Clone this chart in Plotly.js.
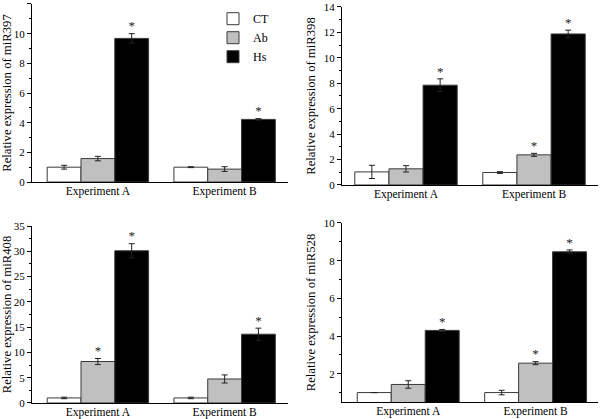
<!DOCTYPE html>
<html>
<head>
<meta charset="utf-8">
<script src="https://cdn.plot.ly/plotly-3.0.1.min.js"></script>
<style>html,body{margin:0;padding:0;background:#fff;}#chart{width:600px;height:419px;}</style>
</head>
<body>
<div id="chart"></div>
<script>
// ---- data ----
var categories = ['Experiment A', 'Experiment B'];
var seriesNames = ['CT', 'Ab', 'Hs'];

// miR397
var mir397_CT = [1.0, 1.0],   mir397_CT_err = [0.13, 0.03];
var mir397_Ab = [1.58, 0.87], mir397_Ab_err = [0.15, 0.16];
var mir397_Hs = [9.68, 4.22], mir397_Hs_err = [0.32, 0.05];
var mir397_CT_star = ['', ''], mir397_Ab_star = ['', ''], mir397_Hs_star = ['*', '*'];

// miR398
var mir398_CT = [1.03, 0.98], mir398_CT_err = [0.52, 0.07];
var mir398_Ab = [1.27, 2.37], mir398_Ab_err = [0.25, 0.12];
var mir398_Hs = [7.85, 11.88], mir398_Hs_err = [0.5, 0.3];
var mir398_CT_star = ['', ''], mir398_Ab_star = ['', '*'], mir398_Hs_star = ['*', '*'];

// miR408
var mir408_CT = [1.0, 1.0],   mir408_CT_err = [0.15, 0.15];
var mir408_Ab = [8.2, 4.75],  mir408_Ab_err = [0.6, 0.8];
var mir408_Hs = [30.1, 13.6], mir408_Hs_err = [1.4, 1.2];
var mir408_CT_star = ['', ''], mir408_Ab_star = ['*', ''], mir408_Hs_star = ['*', '*'];

// miR528
var mir528_CT = [1.0, 1.0],   mir528_CT_err = [0.0, 0.12];
var mir528_Ab = [1.43, 2.56], mir528_Ab_err = [0.2, 0.08];
var mir528_Hs = [4.3, 8.47],  mir528_Hs_err = [0.05, 0.1];
var mir528_CT_star = ['', ''], mir528_Ab_star = ['', '*'], mir528_Hs_star = ['*', '*'];

var yTitles = ['Relative expression of miR397', 'Relative expression of miR398',
               'Relative expression of miR408', 'Relative expression of miR528'];

// ---- styles ----
var FONT = '"Liberation Serif", "Times New Roman", serif';
var fills = ['#ffffff', '#c0c0c0', '#000000'];

var panels = [
  {vals: [mir397_CT, mir397_Ab, mir397_Hs], errs: [mir397_CT_err, mir397_Ab_err, mir397_Hs_err], stars: [mir397_CT_star, mir397_Ab_star, mir397_Hs_star]},
  {vals: [mir398_CT, mir398_Ab, mir398_Hs], errs: [mir398_CT_err, mir398_Ab_err, mir398_Hs_err], stars: [mir398_CT_star, mir398_Ab_star, mir398_Hs_star]},
  {vals: [mir408_CT, mir408_Ab, mir408_Hs], errs: [mir408_CT_err, mir408_Ab_err, mir408_Hs_err], stars: [mir408_CT_star, mir408_Ab_star, mir408_Hs_star]},
  {vals: [mir528_CT, mir528_Ab, mir528_Hs], errs: [mir528_CT_err, mir528_Ab_err, mir528_Hs_err], stars: [mir528_CT_star, mir528_Ab_star, mir528_Hs_star]}
];

var traces = [];
panels.forEach(function (p, pi) {
  var xa = pi === 0 ? 'x' : 'x' + (pi + 1);
  var ya = pi === 0 ? 'y' : 'y' + (pi + 1);
  for (var s = 0; s < 3; s++) {
    traces.push({
      type: 'bar', x: categories, y: p.vals[s], name: seriesNames[s],
      xaxis: xa, yaxis: ya, offsetgroup: 's' + s, legendgroup: seriesNames[s],
      showlegend: pi === 0,
      marker: {color: fills[s], line: {color: '#3a3a3a', width: 1}},
      error_y: {type: 'data', array: p.errs[s], visible: true, color: '#222', thickness: 1, width: 3},
      hoverinfo: 'skip'
    });
  }
  for (var s2 = 0; s2 < 3; s2++) {
    var tops = p.vals[s2].map(function (v, i) { return v + p.errs[s2][i]; });
    traces.push({
      type: 'scatter', mode: 'text', x: categories, y: tops, text: p.stars[s2],
      textposition: 'top center', textfont: {family: FONT, size: 13, color: '#222'},
      marker: {color: '#222'},
      xaxis: xa, yaxis: ya, offsetgroup: 's' + s2, showlegend: false, hoverinfo: 'skip', cliponaxis: false
    });
  }
});

function xAxis(domain, anchor, range) {
  return {domain: domain, anchor: anchor, type: 'category', range: range,
    showline: true, linecolor: '#000', linewidth: 1, ticks: '', showgrid: false, zeroline: false,
    tickfont: {family: FONT, size: 11.5, color: '#000'}, ticklabelstandoff: -2, fixedrange: true};
}
function yAxis(domain, anchor, range, dtick, title, standoff) {
  return {domain: domain, anchor: anchor, range: range, tick0: 0, dtick: dtick,
    showline: true, linecolor: '#000', linewidth: 1, ticks: 'outside', ticklen: 4, tickcolor: '#000',
    minor: {dtick: dtick / 2, ticks: 'outside', ticklen: 2, tickcolor: '#000', showgrid: false},
    showgrid: false, zeroline: false,
    tickfont: {family: FONT, size: 11, color: '#000'},
    title: {text: title, font: {family: FONT, size: 12.7, color: '#000'}, standoff: standoff},
    fixedrange: true};
}

var layout = {
  width: 600, height: 419,
  margin: {l: 0, r: 0, t: 0, b: 0},
  paper_bgcolor: '#fff', plot_bgcolor: '#fff',
  barmode: 'group', bargap: 0.2, bargroupgap: 0,
  scattermode: 'group', scattergap: 0.2,
  showlegend: true,
  legend: {x: 0.355, y: 0.99, xanchor: 'left', yanchor: 'top', bgcolor: 'rgba(0,0,0,0)',
    font: {family: FONT, size: 12, color: '#000'}, tracegroupgap: 0},
  xaxis:  xAxis([0.0533, 0.48], 'y', [-0.52, 1.5]),
  yaxis:  yAxis([0.5656, 0.9905], 'x', [0, 12], 2, yTitles[0], 5),
  xaxis2: xAxis([0.57, 0.9967], 'y2', [-0.5, 1.5]),
  yaxis2: yAxis([0.5585, 0.9833], 'x2', [0, 14], 2, yTitles[1], 5),
  xaxis3: xAxis([0.0533, 0.48], 'y3', [-0.52, 1.5]),
  yaxis3: yAxis([0.0382, 0.4606], 'x3', [0, 35], 5, yTitles[2], 5),
  xaxis4: xAxis([0.57, 0.9967], 'y4', [-0.52, 1.49]),
  yaxis4: yAxis([0.0406, 0.4678], 'x4', [0.5, 10], 2, yTitles[3], 5)
};

Plotly.newPlot('chart', traces, layout, {staticPlot: true, displayModeBar: false});
</script>
</body>
</html>
